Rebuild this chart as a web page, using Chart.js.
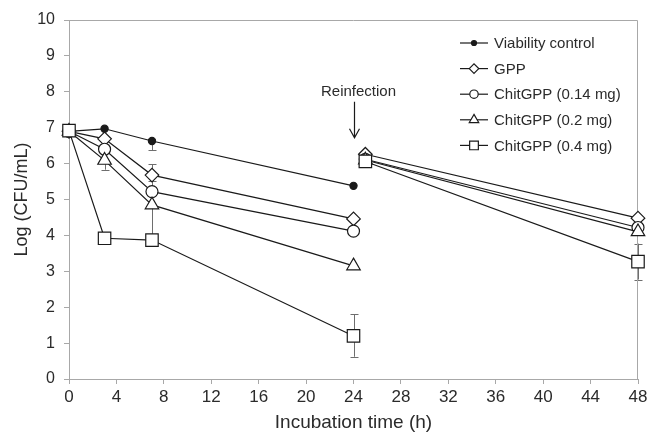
<!DOCTYPE html>
<html>
<head>
<meta charset="utf-8">
<script src="https://cdn.jsdelivr.net/npm/chart.js@4.4.1/dist/chart.umd.min.js"></script>
<style>
  html, body { margin: 0; padding: 0; background: #ffffff; }
  #wrap { width: 648px; height: 434px; }
</style>
</head>
<body>
<div id="wrap"><canvas id="c" width="648" height="434"></canvas></div>
<script>
// ---------- data ----------
const xTicksStep = 4;
const seriesNames = ['Viability control', 'GPP', 'ChitGPP (0.14 mg)', 'ChitGPP (0.2 mg)', 'ChitGPP (0.4 mg)'];

// incubation times (h); 24.5 is a break between the two phases (reinfection)
const timesControl = [0, 3, 7, 24];
const timesTreated = [0, 3, 7, 24, 24.5, 25, 48];

const viabilityControl = [6.90, 6.97, 6.63, 5.38];
const gpp              = [6.90, 6.69, 5.68, 4.46, null, 6.26, 4.48];
const chit014          = [6.90, 6.40, 5.22, 4.12, null, 6.12, 4.22];
const chit02           = [6.90, 6.09, 4.85, 3.15, null, 6.10, 4.10];
const chit04           = [6.92, 3.92, 3.87, 1.20, null, 6.06, 3.27];

// error bars: [minus, plus] per point (0 = none)
const errControl = [[0,0],[0,0],[0.25,0],[0,0]];
const errGpp     = [[0,0],[0,0],[0.5,0.3],[0,0],[0,0],[0,0],[0,0]];
const err014     = [[0,0],[0,0],[0.4,0.3],[0,0],[0,0],[0,0],[0,0]];
const err02      = [[0,0],[0.26,0.2],[0.9,0.5],[0,0],[0,0],[0,0],[0,0]];
const err04      = [[0,0],[0,0],[0,0],[0.58,0.6],[0,0],[0,0],[0.5,0.5]];

const reinfectionText = 'Reinfection';
const reinfectionX = 24;

// ---------- build ----------
function pts(xs, ys) { return xs.map((x, i) => ({ x: x, y: ys[i] })); }

const ink = '#1a1a1a';
const styles = [
  { pointStyle: 'circle',   radius: 3.6, fill: ink },
  { pointStyle: 'rectRot',  radius: 6.8, fill: '#ffffff' },
  { pointStyle: 'circle',   radius: 6.0, fill: '#ffffff' },
  { pointStyle: 'triangle', radius: 7.8, fill: '#ffffff' },
  { pointStyle: 'rect',     radius: 8.8, fill: '#ffffff' }
];
const seriesData = [
  pts(timesControl, viabilityControl),
  pts(timesTreated, gpp),
  pts(timesTreated, chit014),
  pts(timesTreated, chit02),
  pts(timesTreated, chit04)
];
const seriesErr = [errControl, errGpp, err014, err02, err04];

const datasets = seriesNames.map((name, i) => ({
  label: name,
  data: seriesData[i],
  errs: seriesErr[i],
  borderColor: ink,
  borderWidth: 1.2,
  pointStyle: styles[i].pointStyle,
  pointRadius: styles[i].radius,
  pointBackgroundColor: styles[i].fill,
  pointBorderColor: ink,
  pointBorderWidth: 1.2,
  spanGaps: false,
  tension: 0,
  clip: false,
  order: seriesNames.length - 1 - i
}));

const FONT = "'Liberation Sans', Arial, sans-serif";
const TXT = '#2b2b2b';
const AXIS = '#a8a8a8';

const errorBars = {
  id: 'errorBars',
  beforeDatasetsDraw(chart) {
    const { ctx, scales: { x, y } } = chart;
    ctx.save();
    ctx.strokeStyle = '#6e6e6e';
    ctx.lineWidth = 1;
    chart.data.datasets.forEach((ds) => {
      ds.data.forEach((p, j) => {
        const e = ds.errs[j];
        if (p.y === null || !e || (e[0] === 0 && e[1] === 0)) return;
        const px = Math.round(x.getPixelForValue(p.x)) + 0.5;
        const lo = y.getPixelForValue(p.y - e[0]);
        const hi = y.getPixelForValue(p.y + e[1]);
        ctx.beginPath();
        ctx.moveTo(px, lo); ctx.lineTo(px, hi);
        if (e[0] > 0) { ctx.moveTo(px - 4, Math.round(lo) + 0.5); ctx.lineTo(px + 4, Math.round(lo) + 0.5); }
        if (e[1] > 0) { ctx.moveTo(px - 4, Math.round(hi) + 0.5); ctx.lineTo(px + 4, Math.round(hi) + 0.5); }
        ctx.stroke();
      });
    });
    ctx.restore();
  }
};

const frameAndNotes = {
  id: 'frameAndNotes',
  beforeDatasetsDraw(chart) {
    const { ctx, chartArea: a } = chart;
    ctx.save();
    ctx.strokeStyle = AXIS;
    ctx.lineWidth = 1;
    ctx.beginPath();
    ctx.moveTo(Math.round(a.left) + 0.5, Math.round(a.top) + 0.5);
    ctx.lineTo(Math.round(a.right) - 0.5, Math.round(a.top) + 0.5);
    ctx.lineTo(Math.round(a.right) - 0.5, Math.round(a.bottom));
    ctx.stroke();
    ctx.restore();
  },
  afterDraw(chart) {
    const { ctx, chartArea: a, scales: { x, y } } = chart;
    ctx.save();
    // Reinfection annotation
    const ax = Math.round(x.getPixelForValue(reinfectionX)) + 0.5;
    ctx.fillStyle = TXT;
    ctx.font = '15px ' + FONT;
    ctx.textAlign = 'center';
    ctx.textBaseline = 'middle';
    ctx.fillText(reinfectionText, ax + 4, y.getPixelForValue(8.0));
    const yTop = y.getPixelForValue(7.72), yTip = y.getPixelForValue(6.72);
    ctx.strokeStyle = ink;
    ctx.lineWidth = 1.2;
    ctx.beginPath();
    ctx.moveTo(ax, yTop); ctx.lineTo(ax, yTip);
    ctx.moveTo(ax - 5, yTip - 9); ctx.lineTo(ax, yTip); ctx.lineTo(ax + 5, yTip - 9);
    ctx.stroke();

    // Legend
    const lx0 = a.right - 178, lx1 = a.right - 150, mx = (lx0 + lx1) / 2, tx = a.right - 144;
    ctx.textAlign = 'left';
    ctx.font = '15px ' + FONT;
    chart.data.datasets.forEach((ds, i) => {
      const ly = a.top + 23 + i * 25.6;
      ctx.strokeStyle = ink;
      ctx.lineWidth = 1.2;
      ctx.beginPath();
      ctx.moveTo(lx0, ly); ctx.lineTo(lx1, ly);
      ctx.stroke();
      ctx.fillStyle = ds.pointBackgroundColor;
      ctx.strokeStyle = ink;
      Chart.helpers.drawPoint(ctx, {
        pointStyle: ds.pointStyle,
        radius: ds.pointRadius * 0.7,
        rotation: 0,
        borderWidth: 1.2
      }, mx, ly);
      ctx.fillStyle = TXT;
      ctx.fillText(ds.label, tx, ly + 1);
    });
    ctx.restore();
  }
};

new Chart(document.getElementById('c'), {
  type: 'line',
  data: { datasets: datasets },
  options: {
    responsive: false,
    devicePixelRatio: 1,
    animation: false,
    layout: { padding: { top: 20, right: 0, left: 0, bottom: 0 } },
    plugins: { legend: { display: false }, tooltip: { enabled: false } },
    scales: {
      x: {
        type: 'linear',
        min: 0, max: 48,
        ticks: { stepSize: xTicksStep, color: TXT, font: { family: FONT, size: 17 }, padding: 3, maxRotation: 0 },
        grid: { drawOnChartArea: false, color: AXIS, tickLength: 5 },
        border: { color: AXIS },
        title: { display: true, text: 'Incubation time (h)', color: TXT, font: { family: FONT, size: 19, lineHeight: 1.2 }, padding: { top: 0, bottom: 0 } },
        afterFit(s) { s.height = 55; s.paddingRight = 10; }
      },
      y: {
        min: 0, max: 10,
        ticks: { stepSize: 1, color: TXT, font: { family: FONT, size: 16 }, padding: 9 },
        grid: { drawOnChartArea: false, color: AXIS, tickLength: 5 },
        border: { color: AXIS },
        title: { display: true, text: 'Log (CFU/mL)', color: TXT, font: { family: FONT, size: 18, lineHeight: 1.2 }, padding: { top: 11, bottom: 0 } },
        afterFit(s) { s.width = 69; }
      }
    }
  },
  plugins: [errorBars, frameAndNotes]
});
</script>
</body>
</html>
